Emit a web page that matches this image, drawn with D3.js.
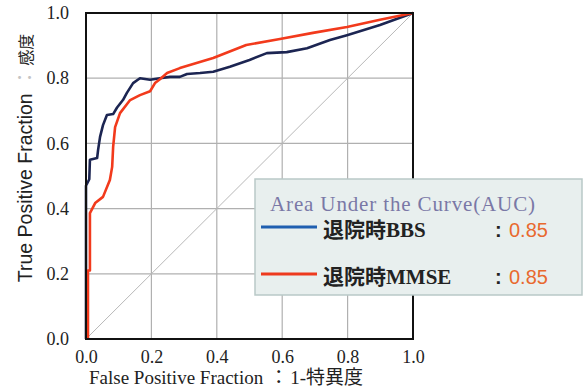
<!DOCTYPE html>
<html><head><meta charset="utf-8">
<script src="https://cdn.jsdelivr.net/npm/d3@7"></script>
<style>body{margin:0;background:#fff;}svg{display:block;}</style>
</head><body>
<svg id="c" width="586" height="387"></svg>
<script>
const xTicks = [0, 0.2, 0.4, 0.6, 0.8, 1.0];
const yTicks = [0, 0.2, 0.4, 0.6, 0.8, 1.0];
const bbsFPR = [0, 0, 0.01, 0.012, 0.034, 0.037, 0.043, 0.052, 0.064, 0.083, 0.095, 0.113, 0.125, 0.144, 0.165, 0.196, 0.226, 0.257, 0.287, 0.309, 0.349, 0.389, 0.44, 0.50, 0.553, 0.614, 0.676, 0.746, 0.798, 0.899, 1.0];
const bbsTPR = [0, 0.47, 0.49, 0.55, 0.555, 0.58, 0.62, 0.656, 0.687, 0.69, 0.71, 0.733, 0.755, 0.785, 0.80, 0.795, 0.80, 0.804, 0.804, 0.813, 0.816, 0.82, 0.835, 0.856, 0.877, 0.88, 0.892, 0.917, 0.932, 0.963, 1.0];
const mmseFPR = [0.006, 0.006, 0.012, 0.012, 0.028, 0.052, 0.073, 0.08, 0.083, 0.089, 0.104, 0.135, 0.165, 0.196, 0.211, 0.226, 0.248, 0.287, 0.389, 0.49, 0.593, 0.694, 0.798, 0.899, 1.0];
const mmseTPR = [0, 0.21, 0.21, 0.386, 0.417, 0.436, 0.488, 0.528, 0.589, 0.65, 0.693, 0.733, 0.748, 0.76, 0.785, 0.797, 0.816, 0.831, 0.862, 0.902, 0.92, 0.939, 0.957, 0.979, 1.0];
const seriesNames = ["退院時BBS", "退院時MMSE"];
const aucValues = ["0.85", "0.85"];

const svg = d3.select("#c");
const L = 86, R = 413, T = 13, B = 339;
const x = d3.scaleLinear().domain([0, 1]).range([L, R]);
const y = d3.scaleLinear().domain([0, 1]).range([B, T]);
const serif = "'Liberation Serif','Noto Sans CJK JP',serif";
const sans = "'Liberation Sans','Noto Sans CJK JP',sans-serif";

// grid
svg.append("g").selectAll("line").data(xTicks.slice(1, -1)).join("line")
  .attr("x1", d => x(d)).attr("x2", d => x(d)).attr("y1", T).attr("y2", B)
  .attr("stroke", "#b0b0b0").attr("stroke-width", 1.2);
svg.append("g").selectAll("line").data(yTicks.slice(1, -1)).join("line")
  .attr("y1", d => y(d)).attr("y2", d => y(d)).attr("x1", L).attr("x2", R)
  .attr("stroke", "#b0b0b0").attr("stroke-width", 1.2);
// diagonal
svg.append("line").attr("x1", x(0)).attr("y1", y(0)).attr("x2", x(1)).attr("y2", y(1))
  .attr("stroke", "#b8b8b8").attr("stroke-width", 1);

const line = d3.line().x(d => x(d[0])).y(d => y(d[1]));
svg.append("path").datum(bbsFPR.map((v, i) => [v, bbsTPR[i]]))
  .attr("d", line).attr("fill", "none").attr("stroke", "#1c2552").attr("stroke-width", 2.6).attr("stroke-linejoin", "round");
svg.append("path").datum(mmseFPR.map((v, i) => [v, mmseTPR[i]]))
  .attr("d", line).attr("fill", "none").attr("stroke", "#f23a1c").attr("stroke-width", 2.6).attr("stroke-linejoin", "round");

// frame
svg.append("rect").attr("x", L).attr("y", T).attr("width", R - L).attr("height", B - T)
  .attr("fill", "none").attr("stroke", "#111").attr("stroke-width", 2);

// axes
const xAxis = d3.axisBottom(x).tickValues(xTicks).tickFormat(d3.format(".1f")).tickSize(0).tickPadding(13);
const gx = svg.append("g").attr("transform", `translate(0,${B})`).call(xAxis);
gx.attr("font-family", null).attr("font-size", null);
gx.select(".domain").remove();
gx.selectAll("text").style("font-family", serif).style("font-size", "18px").style("fill", "#222").attr("dy", "0.6em");
const yAxis = d3.axisLeft(y).tickValues(yTicks).tickFormat(d3.format(".1f")).tickSize(0).tickPadding(17);
const gy = svg.append("g").attr("transform", `translate(${L},0)`).call(yAxis);
gy.attr("font-family", null).attr("font-size", null);
gy.select(".domain").remove();
gy.selectAll("text").style("font-family", serif).style("font-size", "18px").style("fill", "#222");

// axis labels
const xl = svg.append("text").attr("x", 226).attr("y", 384).attr("text-anchor", "middle")
  .style("font-family", serif).style("font-size", "19px").attr("fill", "#222");
xl.append("tspan").text("False Positive Fraction");
xl.append("tspan").attr("dx", 6).text("：");
xl.append("tspan").attr("dx", 2).text("1-特異度");

const yl = svg.append("text").attr("transform", "translate(32,158) rotate(-90)").attr("text-anchor", "middle")
  .style("font-family", sans).style("font-size", "19.5px").attr("fill", "#222");
yl.append("tspan").text("True Positive Fraction");
yl.append("tspan").attr("dx", 6).attr("fill", "#c4c4c4").text("：");
yl.append("tspan").attr("dx", 2).style("font-size", "16px").text("感度");

// legend
const lg = svg.append("g");
lg.append("rect").attr("x", 255).attr("y", 179).attr("width", 327).attr("height", 116)
  .attr("fill", "#e8efee").attr("stroke", "#b9c9c7").attr("stroke-width", 1.5);
lg.append("text").attr("x", 270).attr("y", 211).style("font-family", serif).style("font-size", "21px")
  .attr("textLength", 265).attr("lengthAdjust", "spacing")
  .attr("fill", "#7a78a6").text("Area Under the Curve(AUC)");
const legColors = ["#1f5fb0", "#ee3a1e"];
const rowsY = [227, 274];
seriesNames.forEach((n, i) => {
  lg.append("line").attr("x1", 261).attr("x2", 317).attr("y1", rowsY[i]).attr("y2", rowsY[i])
    .attr("stroke", legColors[i]).attr("stroke-width", 3);
  lg.append("text").attr("x", 323).attr("y", rowsY[i] + 10).style("font-family", serif)
    .style("font-size", "21px").style("font-weight", "bold").attr("fill", "#222").text(n);
  lg.append("text").attr("x", 495).attr("y", rowsY[i] + 10).style("font-family", sans)
    .style("font-size", "20px").style("font-weight", "bold").attr("fill", "#222").text(":");
  lg.append("text").attr("x", 509).attr("y", rowsY[i] + 10).style("font-family", sans)
    .style("font-size", "20px").attr("fill", "#e8692e").text(aucValues[i]);
});
</script>
</body></html>
